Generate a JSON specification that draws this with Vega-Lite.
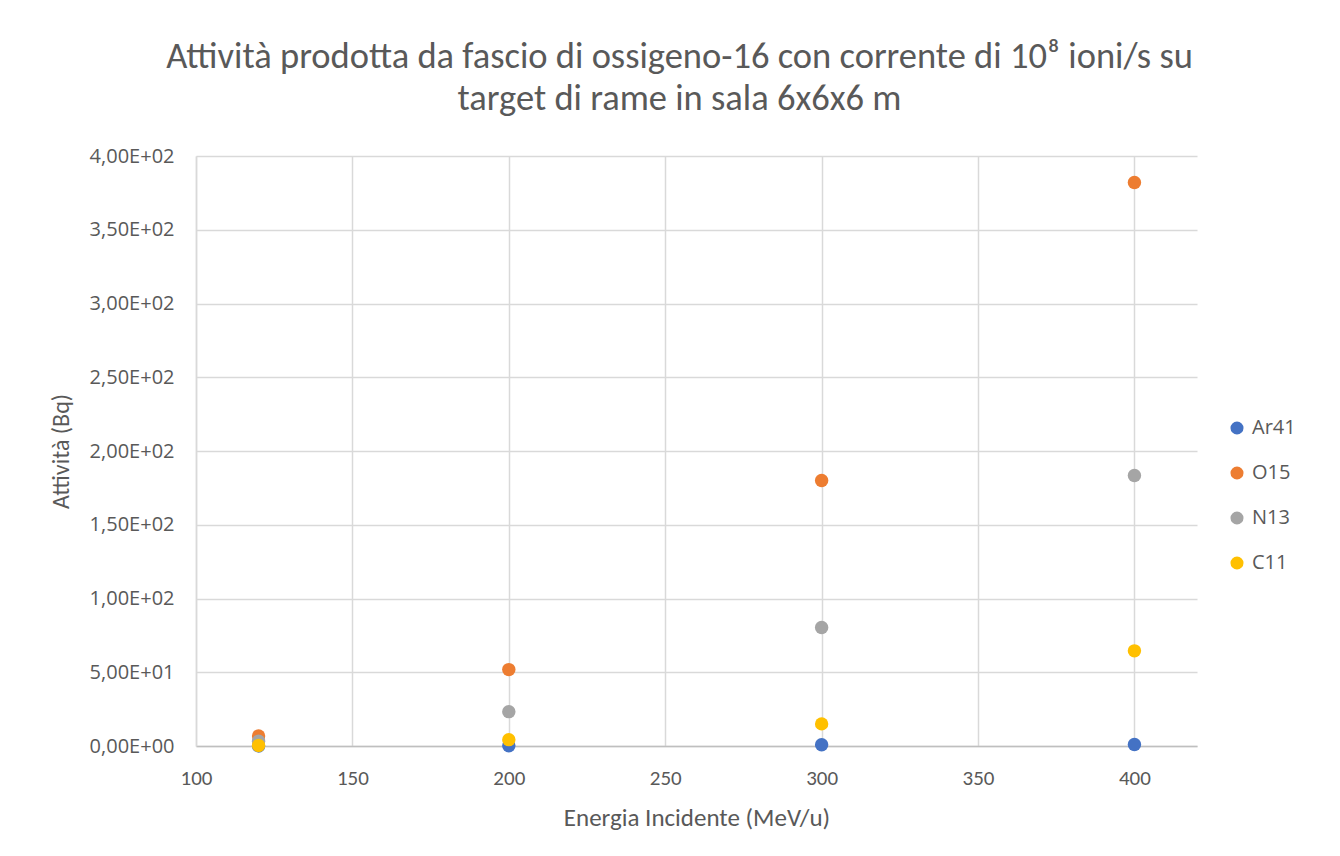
{
  "$schema": "https://vega.github.io/schema/vega-lite/v6.json",
  "width": 1001,
  "height": 590,
  "autosize": {"type": "none"},
  "padding": {"left": 196, "top": 156, "right": 143, "bottom": 110},
  "background": "white",
  "title": {
    "text": ["Attività prodotta da fascio di ossigeno-16 con corrente di 10⁸ ioni/s su", "target di rame in sala 6x6x6 m"],
    "anchor": "middle",
    "frame": "group",
    "dx": -17,
    "offset": 29,
    "font": "Carlito, Liberation Sans Narrow, Open Sans",
    "fontSize": 36.5,
    "fontWeight": "normal",
    "color": "#595959",
    "lineHeight": 42
  },
  "data": {
    "values": [
      {"energia": 120, "isotopo": "Ar41", "attivita": 0.05},
      {"energia": 200, "isotopo": "Ar41", "attivita": 0.1},
      {"energia": 300, "isotopo": "Ar41", "attivita": 0.8},
      {"energia": 400, "isotopo": "Ar41", "attivita": 1.0},
      {"energia": 120, "isotopo": "O15", "attivita": 6.8},
      {"energia": 200, "isotopo": "O15", "attivita": 51.8},
      {"energia": 300, "isotopo": "O15", "attivita": 180},
      {"energia": 400, "isotopo": "O15", "attivita": 382},
      {"energia": 120, "isotopo": "N13", "attivita": 3.3},
      {"energia": 200, "isotopo": "N13", "attivita": 23.3},
      {"energia": 300, "isotopo": "N13", "attivita": 80.3},
      {"energia": 400, "isotopo": "N13", "attivita": 183.4},
      {"energia": 120, "isotopo": "C11", "attivita": 0.3},
      {"energia": 200, "isotopo": "C11", "attivita": 4.3},
      {"energia": 300, "isotopo": "C11", "attivita": 15},
      {"energia": 400, "isotopo": "C11", "attivita": 64.5}
    ]
  },
  "mark": {"type": "point", "filled": true, "opacity": 1, "size": 180, "shape": "circle"},
  "encoding": {
    "x": {
      "field": "energia",
      "type": "quantitative",
      "scale": {"domain": [100, 420], "nice": false, "zero": false},
      "axis": {
        "values": [100, 150, 200, 250, 300, 350, 400],
        "labelFlush": false,
        "title": "Energia Incidente (MeV/u)",
        "titleFont": "Carlito, Liberation Sans Narrow, Open Sans",
        "titleFontSize": 25,
        "titleFontWeight": "normal",
        "titleColor": "#595959",
        "titlePadding": 17,
        "labelFont": "Carlito, Liberation Sans Narrow, Open Sans",
        "labelFontSize": 21,
        "labelColor": "#595959",
        "labelPadding": 21,
        "ticks": false,
        "domainColor": "#bfbfbf",
        "domainWidth": 1.5,
        "gridColor": "#d9d9d9",
        "gridWidth": 1.5
      }
    },
    "y": {
      "field": "attivita",
      "type": "quantitative",
      "scale": {"domain": [0, 400], "nice": false},
      "axis": {
        "values": [0, 50, 100, 150, 200, 250, 300, 350, 400],
        "labelFlush": false,
        "labelExpr": "datum.value == 0 ? '0,00E+00' : (datum.value < 100 ? replace(format(datum.value / 10, '.2f'), '.', ',') + 'E+01' : replace(format(datum.value / 100, '.2f'), '.', ',') + 'E+02')",
        "title": "Attività (Bq)",
        "titleFont": "Carlito, Liberation Sans Narrow, Open Sans",
        "titleFontSize": 24,
        "titleFontWeight": "normal",
        "titleColor": "#595959",
        "titlePadding": 16,
        "labelFont": "Open Sans",
        "labelFontSize": 20,
        "labelColor": "#595959",
        "labelPadding": 22,
        "ticks": false,
        "domainColor": "#d9d9d9",
        "domainWidth": 1.5,
        "gridColor": "#d9d9d9",
        "gridWidth": 1.5
      }
    },
    "color": {
      "field": "isotopo",
      "type": "nominal",
      "sort": ["Ar41", "O15", "N13", "C11"],
      "scale": {"domain": ["Ar41", "O15", "N13", "C11"], "range": ["#4472C4", "#ED7D31", "#A5A5A5", "#FFC000"]},
      "legend": {
        "title": null,
        "orient": "none",
        "legendX": 1031,
        "legendY": 262,
        "symbolType": "circle",
        "symbolSize": 170,
        "symbolOpacity": 1,
        "labelFont": "Open Sans",
        "labelFontSize": 20,
        "labelColor": "#595959",
        "rowPadding": 25,
        "labelOffset": 5
      }
    }
  },
  "config": {"view": {"stroke": null}}
}
